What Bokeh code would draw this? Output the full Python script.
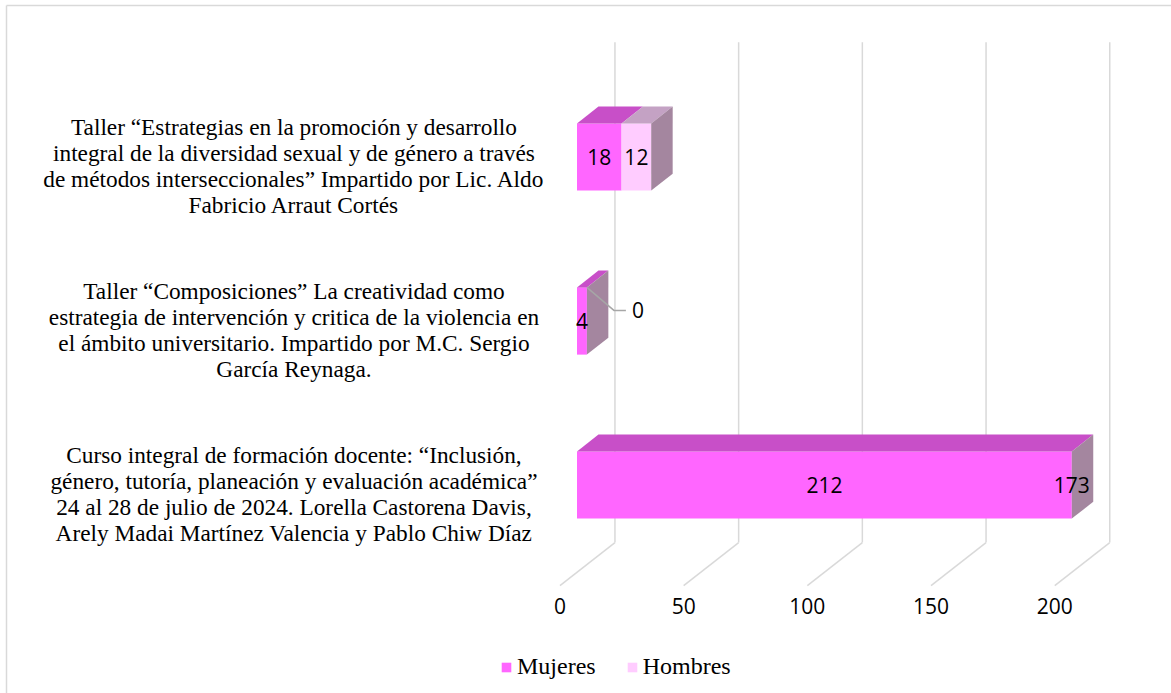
from bokeh.plotting import figure
from bokeh.models import Range1d, Legend, LegendItem, ColumnDataSource
from bokeh.core.properties import value
from bokeh.embed import file_html
from bokeh.resources import INLINE

# ---------------- data ----------------
categories = [
    "Curso integral de formación docente: “Inclusión,\ngénero, tutoría, planeación y evaluación académica”\n24 al 28 de julio de 2024. Lorella Castorena Davis,\nArely Madai Martínez Valencia y Pablo Chiw Díaz",
    "Taller “Composiciones” La creatividad como\nestrategia de intervención y critica de la violencia en\nel ámbito universitario. Impartido por M.C. Sergio\nGarcía Reynaga.",
    "Taller “Estrategias en la promoción y desarrollo\nintegral de la diversidad sexual y de género a través\nde métodos interseccionales” Impartido por Lic. Aldo\nFabricio Arraut Cortés",
]
mujeres = [212, 4, 18]
hombres = [173, 0, 12]
series_names = ["Mujeres", "Hombres"]
ticks = [0, 50, 100, 150, 200]
tick_labels = ["0", "50", "100", "150", "200"]
axis_max = 200

# ---------------- layout / style ----------------
W, H = 1171, 693
PX = 2.474          # px per value unit
PY = 164.0          # px per category unit
X0 = -576.5 / PX
Y1 = 484.5 / PY
DXU = 55.0 / PX     # x shift for one unit of depth
DYU = 43.0 / PY     # y shift for one unit of depth
DEPTH = 0.39        # bar depth
T_FRONT = -0.31     # floor front plane (relative to bar front)
T_WALL = 0.69       # back wall plane
HALF = 0.205        # half bar height
FLOOR = -0.532
WALL_TOP = 2.70
LABEL_X = -114.4
LABEL_DY = -9.0 / PY

front_col = {"Mujeres": "#ff66ff", "Hombres": "#ffccff"}
top_col = {"Mujeres": "#c84fc8", "Hombres": "#c4a2c4"}
side_col = "#a4869f"
grid_col = "#d9d9d9"

def P(v, y, t):
    return v + t * DXU, y + t * DYU

p = figure(width=W, height=H, output_backend="svg", toolbar_location=None,
           x_range=Range1d(X0, X0 + W / PX), y_range=Range1d(Y1 - H / PY, Y1),
           x_axis_type=None, y_axis_type=None, min_border=0,
           outline_line_color=None, background_fill_color="white",
           border_fill_color="white")
p.grid.visible = False

# chart border (left & top)
xs, xe = p.x_range.start, p.x_range.end
ys, ye = p.y_range.start, p.y_range.end
bx, by = xs + 6 / PX, ye - 5 / PY
p.segment(x0=[bx, bx], y0=[ys, by], x1=[bx, xe], y1=[by, by],
          line_color=grid_col, line_width=1.5)

# 3D gridlines: back wall verticals + floor diagonals
gx0, gy0, gx1, gy1 = [], [], [], []
for v in ticks:
    a = P(v, FLOOR, T_WALL); b = P(v, WALL_TOP - T_WALL * DYU, T_WALL)
    gx0.append(a[0]); gy0.append(a[1]); gx1.append(b[0]); gy1.append(b[1])
    c = P(v, FLOOR, T_FRONT)
    gx0.append(c[0]); gy0.append(c[1]); gx1.append(a[0]); gy1.append(a[1])
p.segment(x0=gx0, y0=gy0, x1=gx1, y1=gy1, line_color=grid_col, line_width=1.5)

# bars
front = {s: dict(left=[], right=[], bottom=[], top=[]) for s in series_names}
tops = {s: dict(xs=[], ys=[]) for s in series_names}
sides = dict(xs=[], ys=[])
lab = dict(x=[], y=[], text=[])
zero_lab = []
for i, (m, h) in enumerate(zip(mujeres, hombres)):
    a = 0
    for s, val in zip(series_names, (m, h)):
        lo = min(a, axis_max)
        hi = min(a + val, axis_max)
        f = front[s]
        f["left"].append(lo); f["right"].append(hi)
        f["bottom"].append(i - HALF); f["top"].append(i + HALF)
        pts = [P(lo, i + HALF, 0), P(hi, i + HALF, 0), P(hi, i + HALF, DEPTH), P(lo, i + HALF, DEPTH)]
        tops[s]["xs"].append([q[0] for q in pts]); tops[s]["ys"].append([q[1] for q in pts])
        if val > 0:
            lab["x"].append((lo + hi) / 2); lab["y"].append(i); lab["text"].append(str(val))
        else:
            zero_lab.append((hi, i + HALF, str(val)))
        a += val
    end = min(m + h, axis_max)
    pts = [P(end, i - HALF, 0), P(end, i + HALF, 0), P(end, i + HALF, DEPTH), P(end, i - HALF, DEPTH)]
    sides["xs"].append([q[0] for q in pts]); sides["ys"].append([q[1] for q in pts])

renderers = {}
for s in series_names:
    renderers[s] = p.quad(source=ColumnDataSource(front[s]), left="left", right="right",
                          bottom="bottom", top="top", fill_color=front_col[s], line_color=None)
    p.patches(xs=tops[s]["xs"], ys=tops[s]["ys"], fill_color=top_col[s], line_color=None)
p.patches(xs=sides["xs"], ys=sides["ys"], fill_color=side_col, line_color=None)

# data labels
p.text(x="x", y="y", text="text", source=ColumnDataSource(lab), text_align="center",
       text_baseline="middle", text_font=value("Open Sans"), text_font_size="21px",
       text_color="#000000")
for (xa, ya, t) in zero_lab:
    xb, yb = xa + 27 / PX, ya - 23 / PY
    xc = xb + 12 / PX
    p.line(x=[xa, xb, xc], y=[ya, yb, yb], line_color="#a6a6a6", line_width=1.5)
    p.text(x=[xc + 6 / PX], y=[yb], text=[t], text_align="left", text_baseline="middle",
           text_font=value("Open Sans"), text_font_size="21px", text_color="#000000")

# value axis labels (front floor plane)
tx = [P(v, FLOOR, T_FRONT)[0] for v in ticks]
ty = [P(v, FLOOR, T_FRONT)[1] - 20 / PY for v in ticks]
p.text(x=tx, y=ty, text=tick_labels, text_align="center", text_baseline="middle",
       text_font=value("Open Sans"), text_font_size="21px", text_color="#000000")

# category labels
cx = [LABEL_X] * len(categories)
cy = [i + LABEL_DY for i in range(len(categories))]
p.text(x=cx, y=cy, text=categories, text_align="center", text_baseline="middle",
       text_font=value("Liberation Serif"), text_font_size="23.3px", text_color="#000000",
       text_line_height=1.0)

legend = Legend(items=[LegendItem(label=s, renderers=[renderers[s]]) for s in series_names],
                orientation="horizontal", location=(500, 13), glyph_width=12, glyph_height=12,
                label_text_font="Liberation Serif", label_text_font_size="24px",
                label_text_color="#000000", label_standoff=5, spacing=30, padding=0,
                margin=0, border_line_color=None, background_fill_alpha=0, label_height=12)
p.add_layout(legend)

open("out.html", "w").write(file_html(p, INLINE))
